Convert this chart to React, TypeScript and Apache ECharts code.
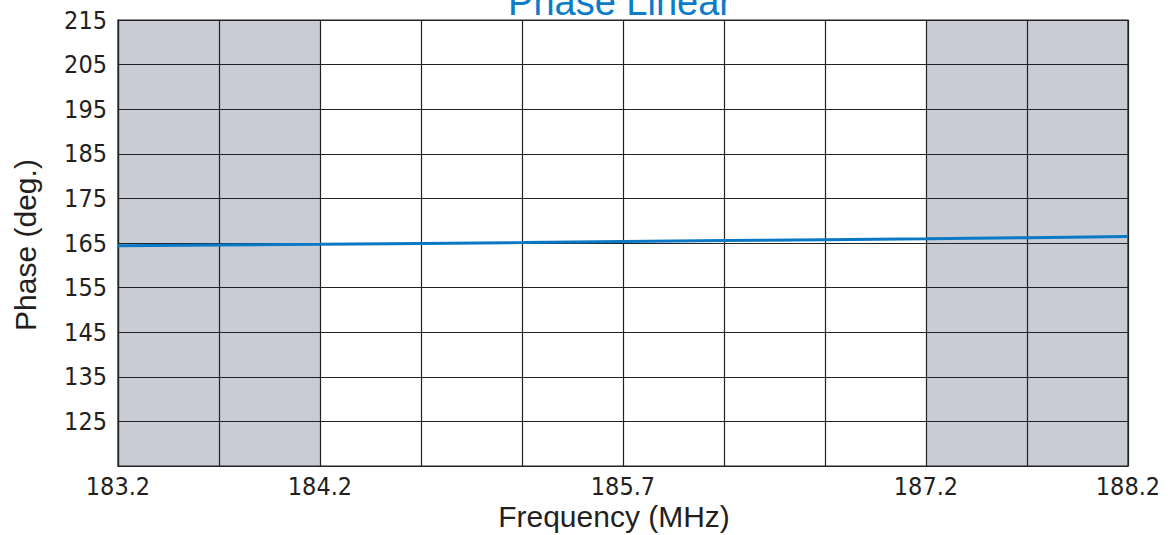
import React, { useEffect, useRef } from "react";
import * as echarts from "echarts";

const frequencies = [183.2, 183.7, 184.2, 184.7, 185.2, 185.7, 186.2, 186.7, 187.2, 187.7, 188.2];
const phases = [164.4, 164.55, 164.7, 164.9, 165.1, 165.35, 165.55, 165.75, 165.95, 166.2, 166.45];
const xTickLabels = ["183.2", "184.2", "185.7", "187.2", "188.2"];
const yTickLabels = ["125", "135", "145", "155", "165", "175", "185", "195", "205", "215"];
const shadedBands = [
  [183.2, 184.2],
  [187.2, 188.2],
];
const xMin = 183.2;
const xMax = 188.2;
const xStep = 0.5;
const yMin = 115;
const yMax = 215;
const yStep = 10;

const TEXT = "#231f20";
const GRAY = "#c9ccd5";
const NARROW = '"Liberation Sans Narrow", "DejaVu Sans Condensed", "Liberation Sans", sans-serif';
const SANS = '"Liberation Sans", Arial, sans-serif';

export default function App() {
  const ref = useRef<HTMLDivElement>(null);
  useEffect(() => {
    if (!ref.current) return;
    const chart = echarts.init(ref.current, undefined, { renderer: "svg" });
    const lineData = frequencies.map((f, i) => [f - xMin, phases[i] - yMin]);
    const nIntervals = Math.round((xMax - xMin) / xStep);
    const bandColors: string[] = [];
    for (let i = 0; i < nIntervals; i++) {
      const c = xMin + (i + 0.5) * xStep;
      const inBand = shadedBands.some(([a, b]) => c > a && c < b);
      bandColors.push(inBand ? GRAY : "#ffffff");
    }
    chart.setOption({
      animation: false,
      grid: {
        left: 118,
        top: 20,
        right: 40,
        bottom: 69,
        show: true,
        z: 4,
        borderColor: "#222",
        borderWidth: 1.2,
        backgroundColor: "transparent",
      },
      xAxis: {
        type: "value",
        z: 1,
        min: 0,
        max: xMax - xMin,
        interval: xStep,
        axisLine: { show: true, lineStyle: { color: "#222", width: 1.2 } },
        axisTick: { show: false },
        splitLine: { show: true, lineStyle: { color: "#222", width: 1.2 } },
        splitArea: { show: true, areaStyle: { color: bandColors, opacity: 1 } },
        axisLabel: {
          show: true,
          margin: 8,
          fontFamily: NARROW,
          fontSize: 25,
          color: TEXT,
          showMinLabel: true,
          showMaxLabel: true,
          hideOverlap: false,
          formatter: (v: number) => {
            const s = (xMin + v).toFixed(1);
            return xTickLabels.includes(s) ? s : "";
          },
        },
      },
      yAxis: {
        type: "value",
        z: 2,
        min: 0,
        max: yMax - yMin,
        interval: yStep,
        axisLine: { show: true, lineStyle: { color: "#222", width: 1.2 } },
        axisTick: { show: false },
        splitLine: { show: true, lineStyle: { color: "#222", width: 1.2 } },
        axisLabel: {
          margin: 11,
          fontFamily: NARROW,
          fontSize: 25,
          color: TEXT,
          showMinLabel: true,
          showMaxLabel: true,
          formatter: (v: number) => {
            const s = String(Math.round(v + yMin));
            return yTickLabels.includes(s) ? s : "";
          },
        },
      },
      graphic: [
        {
          type: "text",
          x: 620,
          y: 2,
          style: {
            text: "Phase Linear",
            font: `38px ${SANS}`,
            fill: "#0a7cc8",
            textAlign: "center",
            textVerticalAlign: "middle",
          },
        },
        {
          type: "text",
          x: 614,
          y: 516,
          style: {
            text: "Frequency (MHz)",
            font: `30px ${SANS}`,
            fill: TEXT,
            textAlign: "center",
            textVerticalAlign: "middle",
          },
        },
        {
          type: "text",
          x: 25,
          y: 245,
          rotation: Math.PI / 2,
          style: {
            text: "Phase (deg.)",
            font: `30px ${SANS}`,
            fill: TEXT,
            textAlign: "center",
            textVerticalAlign: "middle",
          },
        },
      ],
      series: [
        {
          type: "line",
          z: 5,
          data: lineData,
          showSymbol: false,
          symbol: "none",
          lineStyle: { color: "#0a78c4", width: 3 },
        },
      ],
    });
    return () => chart.dispose();
  }, []);
  return (
    <div
      ref={ref}
      style={{ position: "absolute", left: 0, top: 0, width: 1168, height: 535 }}
    />
  );
}
